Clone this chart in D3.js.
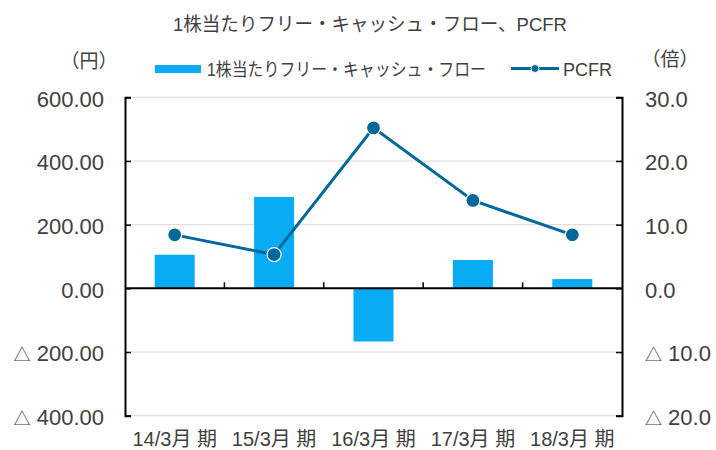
<!DOCTYPE html>
<html>
<head>
<meta charset="utf-8">
<script src="https://cdn.jsdelivr.net/npm/d3@7.9.0/dist/d3.min.js"></script>
<style>
  body { margin: 0; background: #fff; }
  svg text { font-family: "Liberation Sans", Arial, "Noto Sans CJK JP", sans-serif; fill: #404040; }
</style>
</head>
<body>
<div id="chart"></div>
<script>
const categories = ['14/3月 期', '15/3月 期', '16/3月 期', '17/3月 期', '18/3月 期'];
const fcfValues = [105.5, 287, -167, 89, 29];
const pcfrValues = [8.4, 5.3, 25.2, 13.8, 8.4];
const leftTicks = [600, 400, 200, 0, -200, -400];
const rightTicks = [30, 20, 10, 0, -10, -20];

const width = 716, height = 450;
const plot = { left: 125, right: 622, top: 97.3, bottom: 415.7 };

const svg = d3.select('#chart').append('svg')
  .attr('width', width).attr('height', height);

const x = d3.scaleBand().domain(categories).range([plot.left, plot.right]);
const yL = d3.scaleLinear().domain([-400, 600]).range([plot.bottom, plot.top]);
const yR = d3.scaleLinear().domain([-20, 30]).range([plot.bottom, plot.top]);

const fmtL = d => d3.format('.2f')(Math.abs(d));
const fmtR = d => d3.format('.1f')(Math.abs(d));

// negative values get a small triangle in front, like the original sheet
function addTriangles(axisG) {
  axisG.selectAll('.tick text').each(function(d) {
    if (d >= 0) return;
    const t = d3.select(this);
    const num = t.text();
    t.text(null);
    t.append('tspan').style('font-size', '17px').text('△');
    t.append('tspan').text(' ' + num);
  });
}

// gridlines
svg.append('g')
  .selectAll('line')
  .data(leftTicks.filter(d => d !== 0))
  .join('line')
  .attr('x1', plot.left).attr('x2', plot.right)
  .attr('y1', d => yL(d)).attr('y2', d => yL(d))
  .attr('stroke', '#d9d9d9').attr('stroke-width', 1);

// bars
svg.append('g')
  .selectAll('rect')
  .data(fcfValues)
  .join('rect')
  .attr('x', (d, i) => x(categories[i]) + x.bandwidth() / 2 - 20)
  .attr('width', 40)
  .attr('y', d => Math.min(yL(d), yL(0)))
  .attr('height', d => Math.abs(yL(d) - yL(0)))
  .attr('fill', '#0aabf5');

// left axis
const leftAxis = svg.append('g')
  .attr('transform', `translate(${plot.left},0)`)
  .call(d3.axisLeft(yL).tickValues(leftTicks).tickSize(-6).tickPadding(21).tickFormat(fmtL));
leftAxis.select('.domain').attr('stroke', '#000').attr('stroke-width', 2);
leftAxis.selectAll('.tick line').attr('stroke', '#000').attr('stroke-width', 1.5);
leftAxis.selectAll('.tick text').style('font-size', '22px').attr('fill', '#404040').attr('dy', '0.4em');
addTriangles(leftAxis);

// right axis
const rightAxis = svg.append('g')
  .attr('transform', `translate(${plot.right},0)`)
  .call(d3.axisRight(yR).tickValues(rightTicks).tickSize(-6).tickPadding(23).tickFormat(fmtR));
rightAxis.select('.domain').attr('stroke', '#000').attr('stroke-width', 2);
rightAxis.selectAll('.tick line').attr('stroke', '#000').attr('stroke-width', 1.5);
rightAxis.selectAll('.tick text').style('font-size', '22px').attr('fill', '#404040').attr('dy', '0.4em');
addTriangles(rightAxis);

// zero axis with category separators
const xAxis = svg.append('g')
  .attr('transform', `translate(0,${yL(0)})`);
xAxis.append('line')
  .attr('x1', plot.left).attr('x2', plot.right)
  .attr('stroke', '#000').attr('stroke-width', 2);
xAxis.selectAll('line.sep')
  .data(categories.slice(1))
  .join('line')
  .attr('class', 'sep')
  .attr('x1', d => x(d)).attr('x2', d => x(d))
  .attr('y1', 0).attr('y2', -6)
  .attr('stroke', '#000').attr('stroke-width', 1.5);

// category labels at bottom
svg.append('g')
  .selectAll('text')
  .data(categories)
  .join('text')
  .attr('x', d => x(d) + x.bandwidth() / 2)
  .attr('y', 446)
  .attr('text-anchor', 'middle')
  .style('font-size', '20px')
  .text(d => d);

// line
const line = d3.line()
  .x((d, i) => x(categories[i]) + x.bandwidth() / 2)
  .y(d => yR(d));
svg.append('path')
  .datum(pcfrValues)
  .attr('d', line)
  .attr('fill', 'none')
  .attr('stroke', '#00679a')
  .attr('stroke-width', 3);
svg.append('g')
  .selectAll('circle')
  .data(pcfrValues)
  .join('circle')
  .attr('cx', (d, i) => x(categories[i]) + x.bandwidth() / 2)
  .attr('cy', d => yR(d))
  .attr('r', 7)
  .attr('fill', '#00679a')
  .attr('stroke', '#fff')
  .attr('stroke-width', 1.2);

// title
svg.append('text')
  .attr('x', 173).attr('y', 31)
  .attr('textLength', 394).attr('lengthAdjust', 'spacingAndGlyphs')
  .style('font-size', '19px')
  .text('1株当たりフリー・キャッシュ・フロー、PCFR');

// unit labels
svg.append('text').attr('x', 89).attr('y', 68).attr('text-anchor', 'middle')
  .style('font-size', '19px').text('（円）');
svg.append('text').attr('x', 670).attr('y', 66).attr('text-anchor', 'middle')
  .style('font-size', '19px').text('（倍）');

// legend
const legend = svg.append('g');
legend.append('rect')
  .attr('x', 155).attr('y', 65).attr('width', 46).attr('height', 8)
  .attr('fill', '#0aabf5');
legend.append('text').attr('x', 207).attr('y', 76)
  .attr('textLength', 279).attr('lengthAdjust', 'spacingAndGlyphs')
  .style('font-size', '18px').text('1株当たりフリー・キャッシュ・フロー');
legend.append('line')
  .attr('x1', 511).attr('x2', 559).attr('y1', 68.5).attr('y2', 68.5)
  .attr('stroke', '#00679a').attr('stroke-width', 3);
legend.append('circle')
  .attr('cx', 535).attr('cy', 68.5).attr('r', 4)
  .attr('fill', '#00679a').attr('stroke', '#fff').attr('stroke-width', 1);
legend.append('text').attr('x', 563).attr('y', 76)
  .style('font-size', '18px').text('PCFR');
</script>
</body>
</html>
